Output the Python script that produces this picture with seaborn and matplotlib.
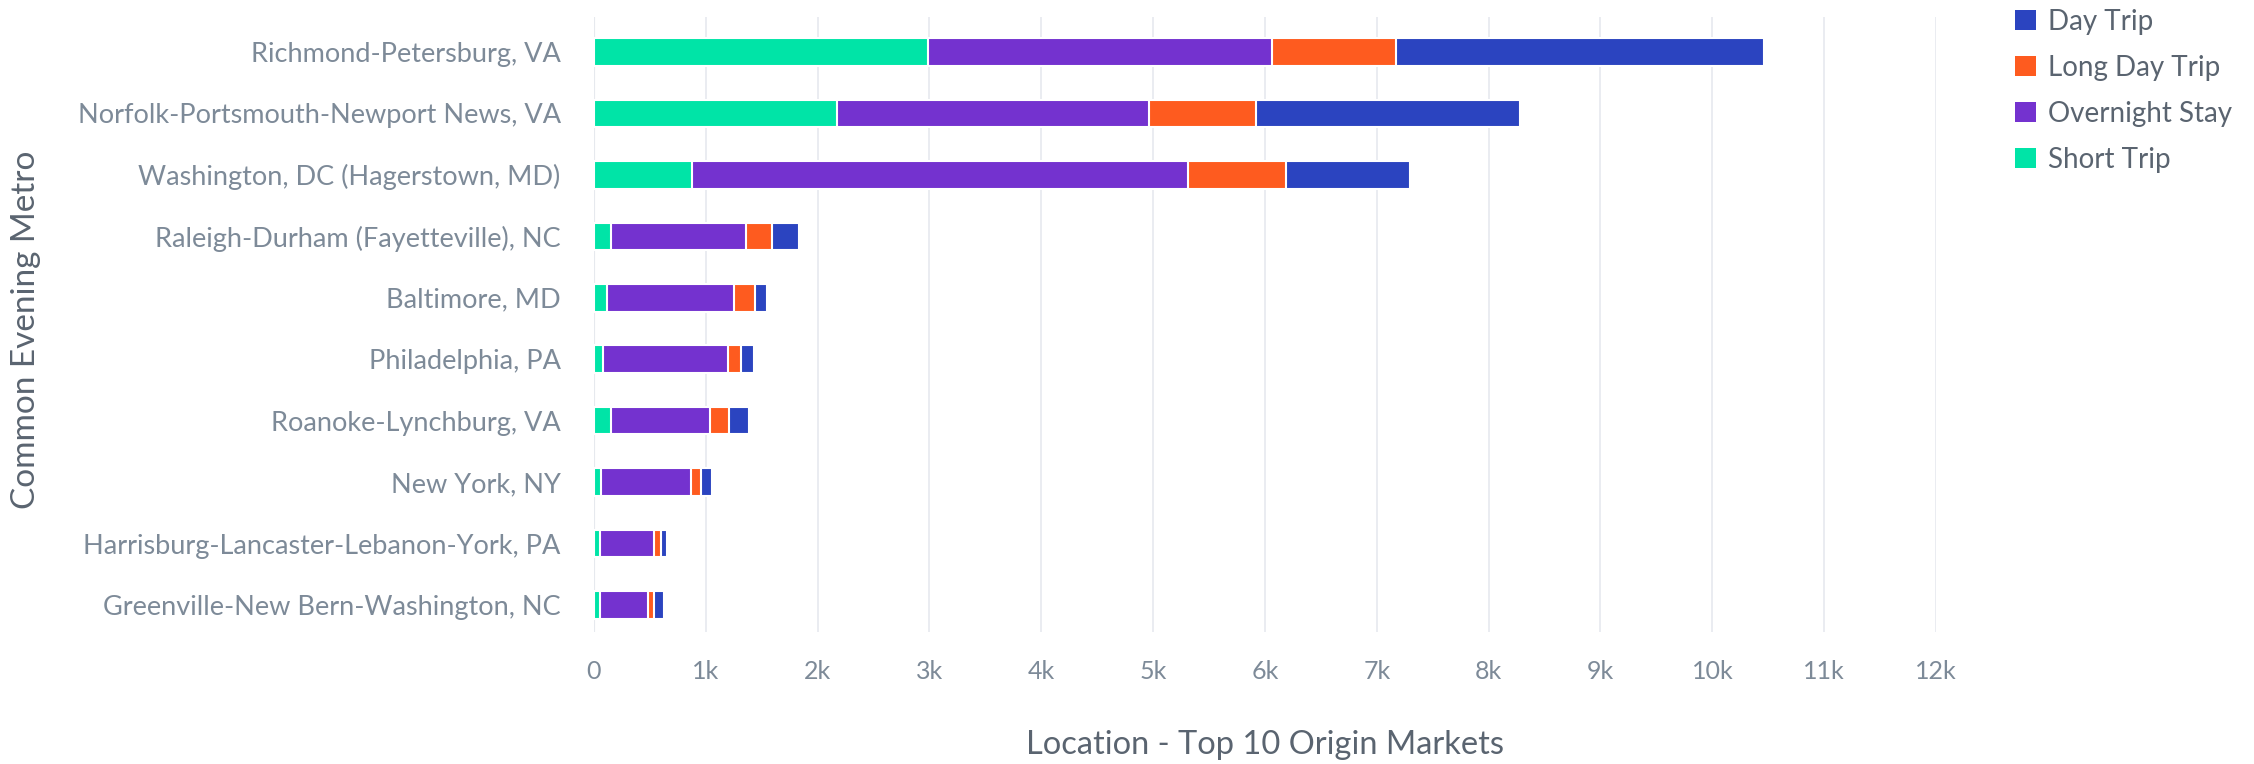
import matplotlib
matplotlib.use("Agg")
import matplotlib.pyplot as plt
from matplotlib.patches import Patch
import numpy as np
import pandas as pd
import seaborn as sns

metros = [
    "Richmond-Petersburg, VA",
    "Norfolk-Portsmouth-Newport News, VA",
    "Washington, DC (Hagerstown, MD)",
    "Raleigh-Durham (Fayetteville), NC",
    "Baltimore, MD",
    "Philadelphia, PA",
    "Roanoke-Lynchburg, VA",
    "New York, NY",
    "Harrisburg-Lancaster-Lebanon-York, PA",
    "Greenville-New Bern-Washington, NC",
]
short_trip = [2990, 2170, 880, 150, 115, 80, 150, 60, 55, 55]
overnight_stay = [3070, 2790, 4430, 1210, 1135, 1120, 890, 810, 485, 425]
long_day_trip = [1110, 960, 880, 230, 190, 110, 170, 85, 60, 60]
day_trip = [3290, 2360, 1110, 240, 110, 120, 180, 100, 55, 85]

series_names = ["Short Trip", "Overnight Stay", "Long Day Trip", "Day Trip"]
series_values = [short_trip, overnight_stay, long_day_trip, day_trip]
series_colors = {
    "Short Trip": "#00E4A7",
    "Overnight Stay": "#7432CF",
    "Long Day Trip": "#FE5B1F",
    "Day Trip": "#2B44C0",
}
x_ticks = list(range(0, 13000, 1000))
x_tick_labels = ["0"] + [f"{k}k" for k in range(1, 13)]

sns.set_theme(style="white")
plt.rcParams["font.family"] = ["Lato", "DejaVu Sans"]

text_gray = "#7D8A98"
title_gray = "#5A6470"

fig = plt.figure(figsize=(22.54, 7.64), dpi=100)
ax = fig.add_axes([594 / 2254, 1 - 632 / 764, (1936 - 594) / 2254, (632 - 17) / 764])

# Stacked bars: draw cumulative totals from the outermost segment inward
cum = np.zeros(len(metros))
cums = []
for name, vals in zip(series_names, series_values):
    cum = cum + np.array(vals)
    cums.append((name, cum.copy()))

for name, total in reversed(cums):
    sns.barplot(
        x=total, y=metros, orient="h", order=metros,
        color=series_colors[name], width=0.45, saturation=1,
        edgecolor="white", linewidth=1.5, ax=ax,
    )

ax.set_xlim(0, 12000)
ax.set_ylim(9.44, -0.57)
ax.set_xticks(x_ticks)
ax.set_xticklabels(x_tick_labels)
ax.grid(axis="x", color="#E8EBF0", linewidth=1.3)
ax.grid(axis="y", visible=False)
ax.set_axisbelow(True)
ax.axvline(0, color="#D5DAE2", linewidth=1.5, zorder=0)
for s in ax.spines.values():
    s.set_visible(False)

ax.tick_params(axis="y", length=0, pad=24, labelsize=19.5, labelcolor=text_gray)
ax.tick_params(axis="x", length=0, pad=20, labelsize=18, labelcolor=text_gray)

ax.set_xlabel("Location - Top 10 Origin Markets", fontsize=23.5, color=title_gray, labelpad=34)
ax.set_ylabel("")
fig.text(26 / 2254, 1 - 330 / 764, "Common Evening Metro", rotation=90,
         ha="center", va="center", fontsize=24, color=title_gray)

legend_order = ["Day Trip", "Long Day Trip", "Overnight Stay", "Short Trip"]
handles = [Patch(facecolor=series_colors[n], edgecolor="none", label=n) for n in legend_order]
fig.legend(
    handles=handles, loc="upper left", bbox_to_anchor=(1990 / 2254, 1 + 16 / 764),
    frameon=False, fontsize=20, labelcolor=title_gray,
    handlelength=0.75, handleheight=0.75, handletextpad=0.45, labelspacing=0.72,
)

fig.savefig("out.png", dpi=100, facecolor="white")
